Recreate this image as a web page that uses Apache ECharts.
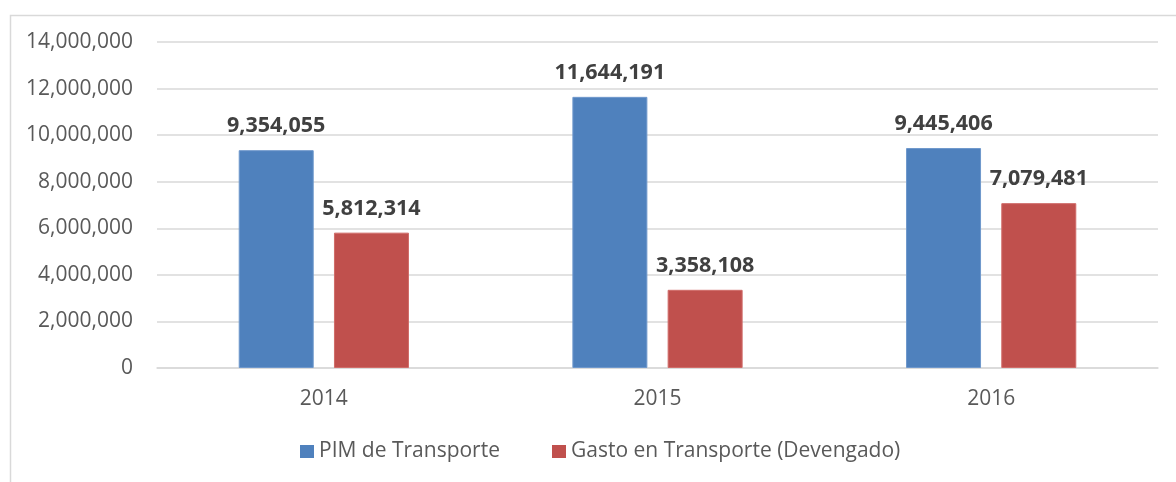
<!DOCTYPE html>
<html>
<head>
<meta charset="utf-8">
<script src="https://cdn.jsdelivr.net/npm/echarts@6/dist/echarts.min.js"></script>
<style>
    html, body { margin: 0; padding: 0; background: #fff; }
    #chart { width: 1176px; height: 482px; }
</style>
</head>
<body>
<div id="chart"></div>
<script>
    // data
    var years = ['2014', '2015', '2016']
    var pimValues = [9354055, 11644191, 9445406]
    var gastoValues = [5812314, 3358108, 7079481]
    var seriesNames = ['PIM de Transporte', 'Gasto en Transporte (Devengado)']

    var font = '"Open Sans", sans-serif'
    var fmt = function (v) { return Number(v).toLocaleString('en-US') }

    var myChart = echarts.init(document.getElementById('chart'))
    var options = {
        animation: false,
        color: ['#4f81bd', '#c0504d'],
        graphic: [{
            type: 'rect',
            left: 8,
            top: 13,
            shape: { width: 1200, height: 500 },
            style: { fill: 'none', stroke: '#d9d9d9', lineWidth: 1.5 },
            silent: true
        }],
        grid: {
            left: 157,
            right: 18,
            top: 42,
            bottom: 114,
            containLabel: false
        },
        legend: {
            data: seriesNames,
            left: 300,
            top: 441,
            padding: 0,
            itemWidth: 14,
            itemHeight: 13,
            itemGap: 52,
            icon: 'rect',
            itemStyle: { borderWidth: 0 },
            textStyle: {
                color: '#595959',
                fontFamily: font,
                fontSize: 21
            }
        },
        xAxis: {
            type: 'category',
            data: years,
            axisLine: { lineStyle: { color: '#d9d9d9', width: 1.5 } },
            axisTick: { show: false },
            axisLabel: {
                color: '#595959',
                fontFamily: font,
                fontSize: 21,
                margin: 21
            }
        },
        yAxis: {
            type: 'value',
            min: 0,
            max: 14000000,
            interval: 2000000,
            axisLine: { show: false },
            axisTick: { show: false },
            axisLabel: {
                color: '#595959',
                fontFamily: font,
                fontSize: 21,
                margin: 24,
                formatter: fmt
            },
            splitLine: {
                lineStyle: { color: '#d9d9d9', width: 1.5 }
            }
        },
        series: [{
            name: seriesNames[0],
            type: 'bar',
            data: pimValues,
            barWidth: 75,
            barGap: '27%',
            itemStyle: { borderColor: '#6f98cc', borderWidth: 1 },
            label: {
                show: true,
                position: 'top',
                distance: 13,
                color: '#404040',
                fontFamily: font,
                fontWeight: 'bold',
                fontSize: 21.5,
                formatter: function (p) { return fmt(p.value) }
            }
        }, {
            name: seriesNames[1],
            type: 'bar',
            data: gastoValues,
            barWidth: 75,
            itemStyle: { borderColor: '#d06c69', borderWidth: 1 },
            label: {
                show: true,
                position: 'top',
                distance: 13,
                color: '#404040',
                fontFamily: font,
                fontWeight: 'bold',
                fontSize: 21.5,
                formatter: function (p) { return fmt(p.value) }
            }
        }]
    }
    myChart.setOption(options)
    window.addEventListener('resize', myChart.resize)
</script>
</body>
</html>
